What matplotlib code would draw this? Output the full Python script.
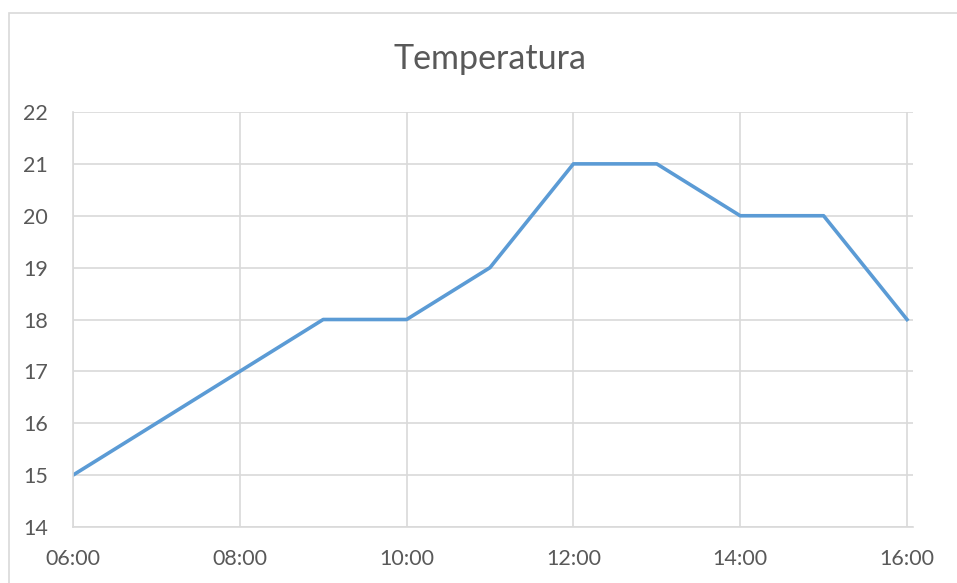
import matplotlib
matplotlib.use("Agg")
from matplotlib import pyplot as plt
from matplotlib.patches import Rectangle

hours = [6, 7, 8, 9, 10, 11, 12, 13, 14, 15, 16]
temps = [15, 16, 17, 18, 18, 19, 21, 21, 20, 20, 18]
tick_hours = [6, 8, 10, 12, 14, 16]
tick_labels = ["06:00", "08:00", "10:00", "12:00", "14:00", "16:00"]
y_ticks = [14, 15, 16, 17, 18, 19, 20, 21, 22]

plt.rcParams['font.family'] = ['Lato', 'DejaVu Sans']
text_color = '#595959'
grid_color = '#D9D9D9'

fig = plt.figure(figsize=(9.57, 5.83), dpi=100)
# chart border (cut off on the right and bottom)
fig.patches.append(Rectangle((9 / 957, -0.1), 1.0, (583 - 13) / 583 + 0.1,
                             transform=fig.transFigure, fill=False,
                             edgecolor=grid_color, linewidth=1.2))

ax = fig.add_axes([73 / 957, 56 / 583, 840 / 957, 415 / 583])
ax.plot(hours, temps, color='#5B9BD5', linewidth=2.6, solid_joinstyle='round')

ax.set_xlim(6, 16 + 6 / 83.4)
ax.set_ylim(14, 22)
ax.set_xticks(tick_hours)
ax.set_xticklabels(tick_labels)
ax.set_yticks(y_ticks)
ax.grid(True, color=grid_color, linewidth=1.2)
ax.set_axisbelow(True)
for side in ['top', 'right']:
    ax.spines[side].set_visible(False)
for side in ['left', 'bottom']:
    ax.spines[side].set_color(grid_color)
    ax.spines[side].set_linewidth(1.2)
ax.tick_params(length=0, labelsize=15.5, labelcolor=text_color)
ax.tick_params(axis='y', pad=18)
ax.tick_params(axis='x', pad=16)

fig.text(490 / 957, 1 - 59 / 583, "Temperatura", ha='center', va='center',
         fontsize=24.5, color=text_color)

fig.savefig("out.png", dpi=100)
